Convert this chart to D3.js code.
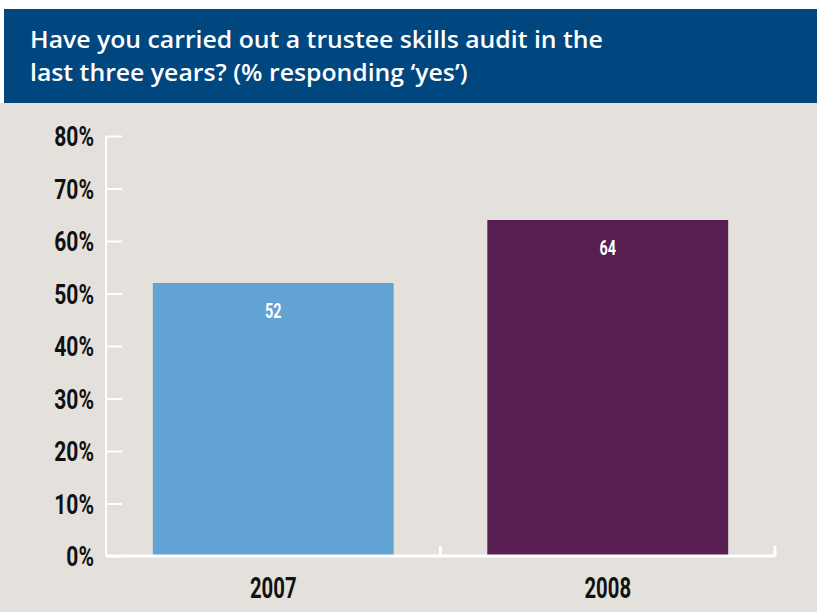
<!DOCTYPE html>
<html>
<head>
<meta charset="utf-8">
<script src="https://cdn.jsdelivr.net/npm/d3@7"></script>
<style>
  body { margin: 0; background: #fff; }
</style>
</head>
<body>
<div id="chart"></div>
<script>
'use strict';

const years = ["2007", "2008"];
const values = [52, 64];
const yTicks = [0, 10, 20, 30, 40, 50, 60, 70, 80];
const barColors = ["#62a3d4", "#581e52"];
const titleLines = ["Have you carried out a trustee skills audit in the",
    "last three years? (% responding \u2018yes\u2019)"];

const width = 817;
const height = 612;
const margin = { top: 136, bottom: 56, left: 106, right: 42 };

const svg = d3.select("#chart")
    .append("svg")
    .attr("width", width)
    .attr("height", height);

// background + title band
svg.append("rect").attr("x", 0).attr("y", 0).attr("width", width).attr("height", height).attr("fill", "#e4e1dc");
svg.append("rect").attr("x", 0).attr("y", 0).attr("width", width).attr("height", 9).attr("fill", "#fff");
svg.append("rect").attr("x", 0).attr("y", 0).attr("width", 4).attr("height", 103).attr("fill", "#fff");
svg.append("rect").attr("x", 4).attr("y", 9).attr("width", width - 4).attr("height", 94).attr("fill", "#00467f");

const title = svg.append("g")
    .selectAll("text")
    .data(titleLines)
    .join("text")
    .attr("fill", "#fff")
    .attr("font-family", "'Open Sans', sans-serif")
    .attr("font-weight", 600)
    .attr("font-size", 23)
    .text(d => d);
// squeeze the title so the first line spans the same width as the original
const titleScale = 573 / title.node().getComputedTextLength();
title.attr("transform", (d, i) => `translate(30,${48 + i * 33}) scale(${titleScale},1)`);

const x = d3.scaleBand()
    .domain(years)
    .range([margin.left, width - margin.right])
    .paddingInner(0.28)
    .paddingOuter(0.14);

const y = d3.scaleLinear()
    .domain([0, 80])
    .range([height - margin.bottom, margin.top]);

// condensed bold look: Roboto squeezed horizontally via transform
function condensed(sel, size) {
    sel.attr("font-family", "Roboto, sans-serif")
        .attr("font-weight", "bold")
        .attr("font-size", size);
    return sel;
}

// bars
svg.append("g")
    .selectAll("rect")
    .data(values)
    .join("rect")
    .attr("x", (d, i) => x(years[i]))
    .attr("y", d => y(d))
    .attr("width", x.bandwidth())
    .attr("height", d => y(0) - y(d))
    .attr("fill", (d, i) => barColors[i]);

// value labels
svg.append("g")
    .selectAll("text")
    .data(values)
    .join("text")
    .attr("transform", (d, i) => `translate(${x(years[i]) + x.bandwidth() / 2},${y(d) + 35}) scale(0.72,1)`)
    .attr("text-anchor", "middle")
    .attr("fill", "#fff")
    .call(condensed, 20)
    .text(d => d);

// y axis
const yAxis = svg.append("g")
    .attr("transform", `translate(${margin.left},0)`)
    .call(d3.axisRight(y).tickValues(yTicks).tickSize(16).tickFormat(""));
yAxis.select(".domain").remove();
yAxis.selectAll("line").attr("stroke", "#fff").attr("stroke-width", 2);
svg.append("line")
    .attr("x1", margin.left).attr("x2", margin.left)
    .attr("y1", y(80)).attr("y2", y(0))
    .attr("stroke", "#fff").attr("stroke-width", 2);

svg.append("g")
    .selectAll("text")
    .data(yTicks)
    .join("text")
    .attr("transform", d => `translate(94,${y(d) + 10}) scale(0.78,1)`)
    .attr("text-anchor", "end")
    .attr("fill", "#111")
    .call(condensed, 27)
    .text(d => d + "%");

// x axis
const xEdges = [margin.left, x(years[1]) - x.step() * x.paddingInner() / 2, width - margin.right];
svg.append("line")
    .attr("x1", margin.left).attr("x2", width - margin.right)
    .attr("y1", y(0)).attr("y2", y(0))
    .attr("stroke", "#fff").attr("stroke-width", 3);
svg.append("g")
    .selectAll("line")
    .data(xEdges.slice(1))
    .join("line")
    .attr("x1", d => d).attr("x2", d => d)
    .attr("y1", y(0)).attr("y2", y(0) - 10)
    .attr("stroke", "#fff").attr("stroke-width", 3);

svg.append("g")
    .selectAll("text")
    .data(years)
    .join("text")
    .attr("transform", d => `translate(${x(d) + x.bandwidth() / 2},598) scale(0.7,1)`)
    .attr("text-anchor", "middle")
    .attr("fill", "#111")
    .call(condensed, 29)
    .text(d => d);
</script>
</body>
</html>
